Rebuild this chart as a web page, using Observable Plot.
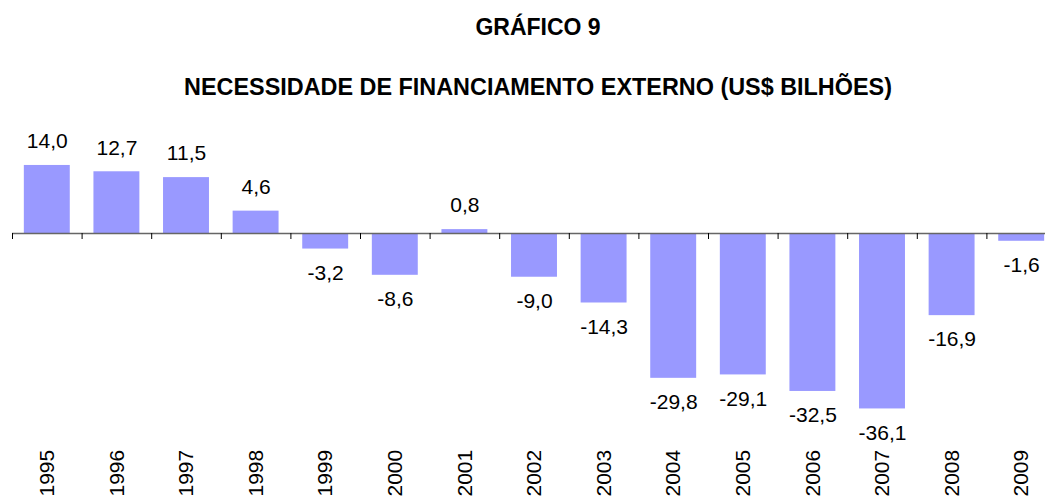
<!DOCTYPE html>
<html><head><meta charset="utf-8">
<script src="https://cdn.jsdelivr.net/npm/d3@7"></script>
<script src="https://cdn.jsdelivr.net/npm/@observablehq/plot@0.6"></script>
<style>
body{margin:0;background:#fff;width:1045px;height:497px;overflow:hidden;position:relative;font-family:"Liberation Sans",Arial,sans-serif;}
.t{position:absolute;transform:translateX(-50%);white-space:nowrap;font-weight:bold;color:#000;z-index:2}
#chart{position:absolute;left:0;top:0;z-index:1}
</style></head><body>
<div id="chart"></div>
<div class="t" id="t1" style="left:538px;top:0;line-height:54px;font-size:23px"></div>
<div class="t" id="t2" style="left:538px;top:68px;line-height:38px;font-size:23.4px"></div>
<script>
const title = "GRÁFICO 9";
const subtitle = "NECESSIDADE DE FINANCIAMENTO EXTERNO (US$ BILHÕES)";
const years = ["1995","1996","1997","1998","1999","2000","2001","2002","2003","2004","2005","2006","2007","2008","2009"];
const values = [14.0, 12.7, 11.5, 4.6, -3.2, -8.6, 0.8, -9.0, -14.3, -29.8, -29.1, -32.5, -36.1, -16.9, -1.6];

document.getElementById("t1").textContent = title;
document.getElementById("t2").textContent = subtitle;

const data = years.map((year, i) => ({year, value: values[i], label: values[i].toFixed(1).replace(".", ",")}));
const pxPerUnit = 4.86, zeroY = 233;
const vmin = d3.min(values), vmax = d3.max(values);
const font = {fontFamily: "Liberation Sans, Arial, sans-serif", fontSize: 21, fill: "#000"};

const chart = Plot.plot({
  width: 1045, height: 497,
  marginTop: 0, marginBottom: 1, marginLeft: 12, marginRight: 0,
  style: {fontFamily: "Liberation Sans, Arial, sans-serif", fontSize: "21px", background: "transparent"},
  x: {type: "band", domain: years, range: [12, 1056], paddingInner: 0.34, paddingOuter: 0.17, round: false, axis: null},
  y: {domain: [vmin, vmax], range: [zeroY - vmin * pxPerUnit, zeroY - vmax * pxPerUnit], axis: null},
  marks: [
    Plot.barY(data, {x: "year", y: "value", fill: "#9999ff"}),
    Plot.ruleY([0], {stroke: "#666", strokeWidth: 1.5}),
    Plot.ruleX(data, {x: "year", y1: 0, y2: 0, insetBottom: -6, dx: -34.8, stroke: "#000"}),
    Plot.text(data.filter(d => d.value >= 0), {x: "year", y: "value", text: "label", dy: -24, ...font}),
    Plot.text(data.filter(d => d.value < 0), {x: "year", y: "value", text: "label", dy: 24, ...font}),
    Plot.text(data, {x: "year", text: "year", frameAnchor: "bottom", rotate: -90, textAnchor: "start", lineAnchor: "middle", ...font})
  ]
});
document.getElementById("chart").appendChild(chart);
</script>
</body></html>
